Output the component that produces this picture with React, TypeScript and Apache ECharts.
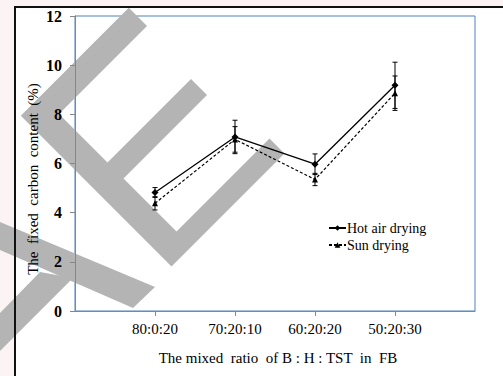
import React, { useEffect, useRef } from "react";
import * as echarts from "echarts";

const categories = ["80:0:20", "70:20:10", "60:20:20", "50:20:30"];
const hotAir = [4.82, 7.08, 5.97, 9.18];
const hotAirErr = [0.2, 0.68, 0.42, 0.94];
const sunDrying = [4.38, 6.98, 5.35, 8.86];
const sunDryingErr = [0.27, 0.52, 0.25, 0.7];
const seriesNames = ["Hot air drying", "Sun drying"];
const yMin = 0;
const yMax = 12;
const yStep = 2;

const FONT = "Liberation Serif";
const WM = "#b4b4b4";

function errRender(params: any, api: any) {
  const x = api.value(0);
  const lo = api.coord([x, api.value(1)]);
  const hi = api.coord([x, api.value(2)]);
  const cap = 2.5;
  const st = { stroke: "#000", lineWidth: 1 };
  return {
    type: "group",
    children: [
      { type: "line", shape: { x1: lo[0], y1: lo[1], x2: hi[0], y2: hi[1] }, style: st },
      { type: "line", shape: { x1: lo[0] - cap, y1: lo[1], x2: lo[0] + cap, y2: lo[1] }, style: st },
      { type: "line", shape: { x1: hi[0] - cap, y1: hi[1], x2: hi[0] + cap, y2: hi[1] }, style: st },
    ],
  };
}

export default function App() {
  const ref = useRef<HTMLDivElement>(null);
  useEffect(() => {
    const chart = echarts.init(ref.current!, null, { renderer: "svg" });
    const xs = categories.map((_, i) => i + 1);
    const poly = (points: number[][]) => ({
      type: "polygon",
      z: 1,
      silent: true,
      shape: { points },
      style: { fill: WM },
    });
    chart.setOption({
      animation: false,
      backgroundColor: "#fcf4f4",
      textStyle: { fontFamily: FONT },
      grid: {
        left: 75,
        top: 16,
        right: 28,
        bottom: 65,
        show: true,
        borderColor: "#4f81bd",
        borderWidth: 1,
        backgroundColor: "transparent",
      },
      xAxis: {
        type: "value",
        min: 0,
        max: categories.length + 1,
        interval: 1,
        z: 3,
        axisLine: { show: true, lineStyle: { color: "#868686", width: 1 } },
        axisTick: { show: true, customValues: xs, length: 5, lineStyle: { color: "#868686" } },
        axisLabel: {
          customValues: xs,
          formatter: (v: number) => categories[v - 1] ?? "",
          fontFamily: FONT,
          fontSize: 15,
          color: "#000",
          margin: 10,
        },
        splitLine: { show: false },
      },
      yAxis: {
        type: "value",
        min: yMin,
        max: yMax,
        interval: yStep,
        z: 3,
        axisLine: { show: true, lineStyle: { color: "#868686", width: 1 } },
        axisTick: { show: true, length: 5, lineStyle: { color: "#868686" } },
        axisLabel: { fontFamily: FONT, fontSize: 16, fontWeight: "bold", color: "#000", margin: 13 },
        splitLine: { show: false },
      },
      legend: {
        data: seriesNames,
        orient: "vertical",
        left: 323,
        top: 216,
        itemWidth: 17,
        itemHeight: 7,
        itemGap: 3,
        textStyle: { fontFamily: FONT, fontSize: 14, color: "#000", lineHeight: 14, padding: [0, 0, 0, -4] },
      },
      series: [
        {
          name: seriesNames[0],
          type: "line",
          z: 5,
          data: hotAir.map((v, i) => [xs[i], v]),
          symbol: "diamond",
          symbolSize: 7,
          itemStyle: { color: "#000" },
          lineStyle: { color: "#000", width: 1.3 },
        },
        {
          name: seriesNames[1],
          type: "line",
          z: 5,
          data: sunDrying.map((v, i) => [xs[i], v]),
          symbol: "triangle",
          symbolSize: 6,
          itemStyle: { color: "#000" },
          lineStyle: { color: "#000", width: 1.2, type: [3, 2] },
        },
        {
          type: "custom",
          z: 6,
          renderItem: errRender,
          encode: { x: 0, y: [1, 2] },
          data: hotAir.map((v, i) => [xs[i], v - hotAirErr[i], v + hotAirErr[i]]),
        },
        {
          type: "custom",
          z: 6,
          renderItem: errRender,
          encode: { x: 0, y: [1, 2] },
          data: sunDrying.map((v, i) => [xs[i], v - sunDryingErr[i], v + sunDryingErr[i]]),
        },
      ],
      graphic: [
        { type: "rect", z: -10, silent: true, shape: { x: 15, y: 7, width: 500, height: 380 }, style: { fill: "#fff" } },
        poly([
          [128.8, 7.8], [147, 26], [59, 114], [107.5, 162.5], [191, 79], [207, 95], [123.5, 178.5],
          [176.5, 231.5], [269.5, 138.5], [284.5, 153.5], [171.5, 266.5], [20.8, 115.8],
        ]),
        poly([[0, 222], [155, 287], [133, 308], [0, 250]]),
        poly([[40, 272], [73, 278], [0, 351], [0, 313]]),
        { type: "line", z: 10, silent: true, shape: { x1: 14, y1: 7, x2: 503, y2: 7 }, style: { stroke: "#111", lineWidth: 2 } },
        { type: "line", z: 10, silent: true, shape: { x1: 15, y1: 6, x2: 15, y2: 376 }, style: { stroke: "#111", lineWidth: 2 } },
        {
          type: "text",
          z: 10,
          silent: true,
          x: 33,
          y: 179,
          rotation: Math.PI / 2,
          style: {
            text: "The  fixed  carbon  content  (%)",
            font: `15px ${FONT}`,
            fill: "#000",
            align: "center",
            verticalAlign: "middle",
          },
        },
        {
          type: "text",
          z: 10,
          silent: true,
          x: 278,
          y: 358,
          style: {
            text: "The mixed  ratio  of B : H : TST  in  FB",
            font: `15px ${FONT}`,
            fill: "#000",
            align: "center",
            verticalAlign: "middle",
          },
        },
      ],
    });
    return () => chart.dispose();
  }, []);
  return <div ref={ref} style={{ position: "fixed", left: 0, top: 0, width: 503, height: 376 }} />;
}
